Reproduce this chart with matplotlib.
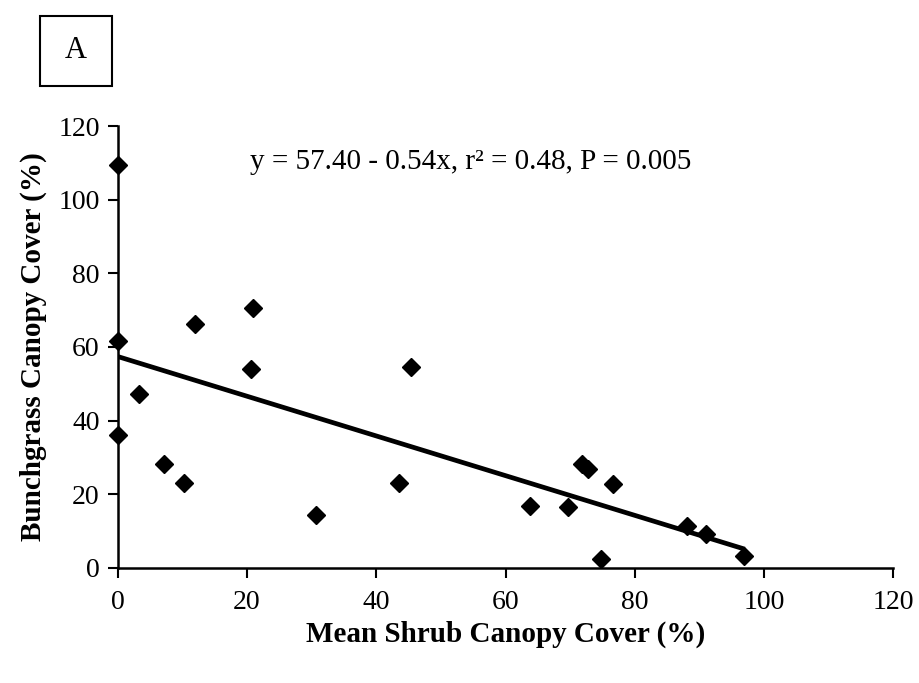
import numpy as np
import matplotlib.pyplot as plt
from matplotlib.patches import Rectangle

plt.rcParams['font.family'] = ['Liberation Serif', 'DejaVu Serif']

# data
shrub = [0.0, 0.0, 0.0, 3.3, 7.1, 10.3, 11.9, 20.9, 20.6, 30.6, 43.5, 45.3,
         63.8, 69.6, 71.9, 72.8, 76.6, 74.7, 88.1, 91.0, 96.9]
grass = [109.5, 61.6, 36.0, 47.1, 28.2, 23.1, 66.2, 70.7, 54.0, 14.2, 23.0, 54.5,
         16.7, 16.5, 28.3, 26.9, 22.8, 2.3, 11.3, 9.0, 3.2]

# regression line from the label
a0 = 57.40
b1 = -0.54
x_fit = np.array([0, 97])
y_fit = a0 + b1 * x_fit

fig = plt.figure(figsize=(9.2, 6.83), dpi=100)
ax = fig.add_axes([0.128, 0.169, 0.843, 0.646])

ax.plot(x_fit, y_fit, color='black', lw=3.4, solid_capstyle='butt', zorder=2)
ax.plot(shrub, grass, 'D', color='black', ms=9.5, clip_on=False, zorder=3)

ax.set_xlim(0, 120)
ax.set_ylim(0, 120)
ax.set_xticks(np.arange(0, 121, 20))
ax.set_yticks(np.arange(0, 121, 20))
ax.tick_params(direction='out', length=7, width=1.5, labelsize=20, pad=9)
ax.tick_params(axis='y', pad=6)

for s in ['top', 'right']:
    ax.spines[s].set_visible(False)
for s in ['left', 'bottom']:
    ax.spines[s].set_linewidth(1.8)

ax.set_xlabel('Mean Shrub Canopy Cover (%)', fontsize=21, fontweight='bold', labelpad=4)
ax.set_ylabel('Bunchgrass Canopy Cover (%)', fontsize=21, fontweight='bold', labelpad=8)

ax.text(0.455, 0.92, 'y = 57.40 - 0.54x, r² = 0.48, P = 0.005', transform=ax.transAxes,
        ha='center', va='center', fontsize=21)

# panel letter box
fig.patches.append(Rectangle((40 / 920, 1 - 86 / 683), 72 / 920, 70 / 683,
                             transform=fig.transFigure, fill=False, lw=1.5, ec='black'))
fig.text(76 / 920, 1 - 50 / 683, 'A', ha='center', va='center', fontsize=22)

fig.savefig('out.png', dpi=100)
